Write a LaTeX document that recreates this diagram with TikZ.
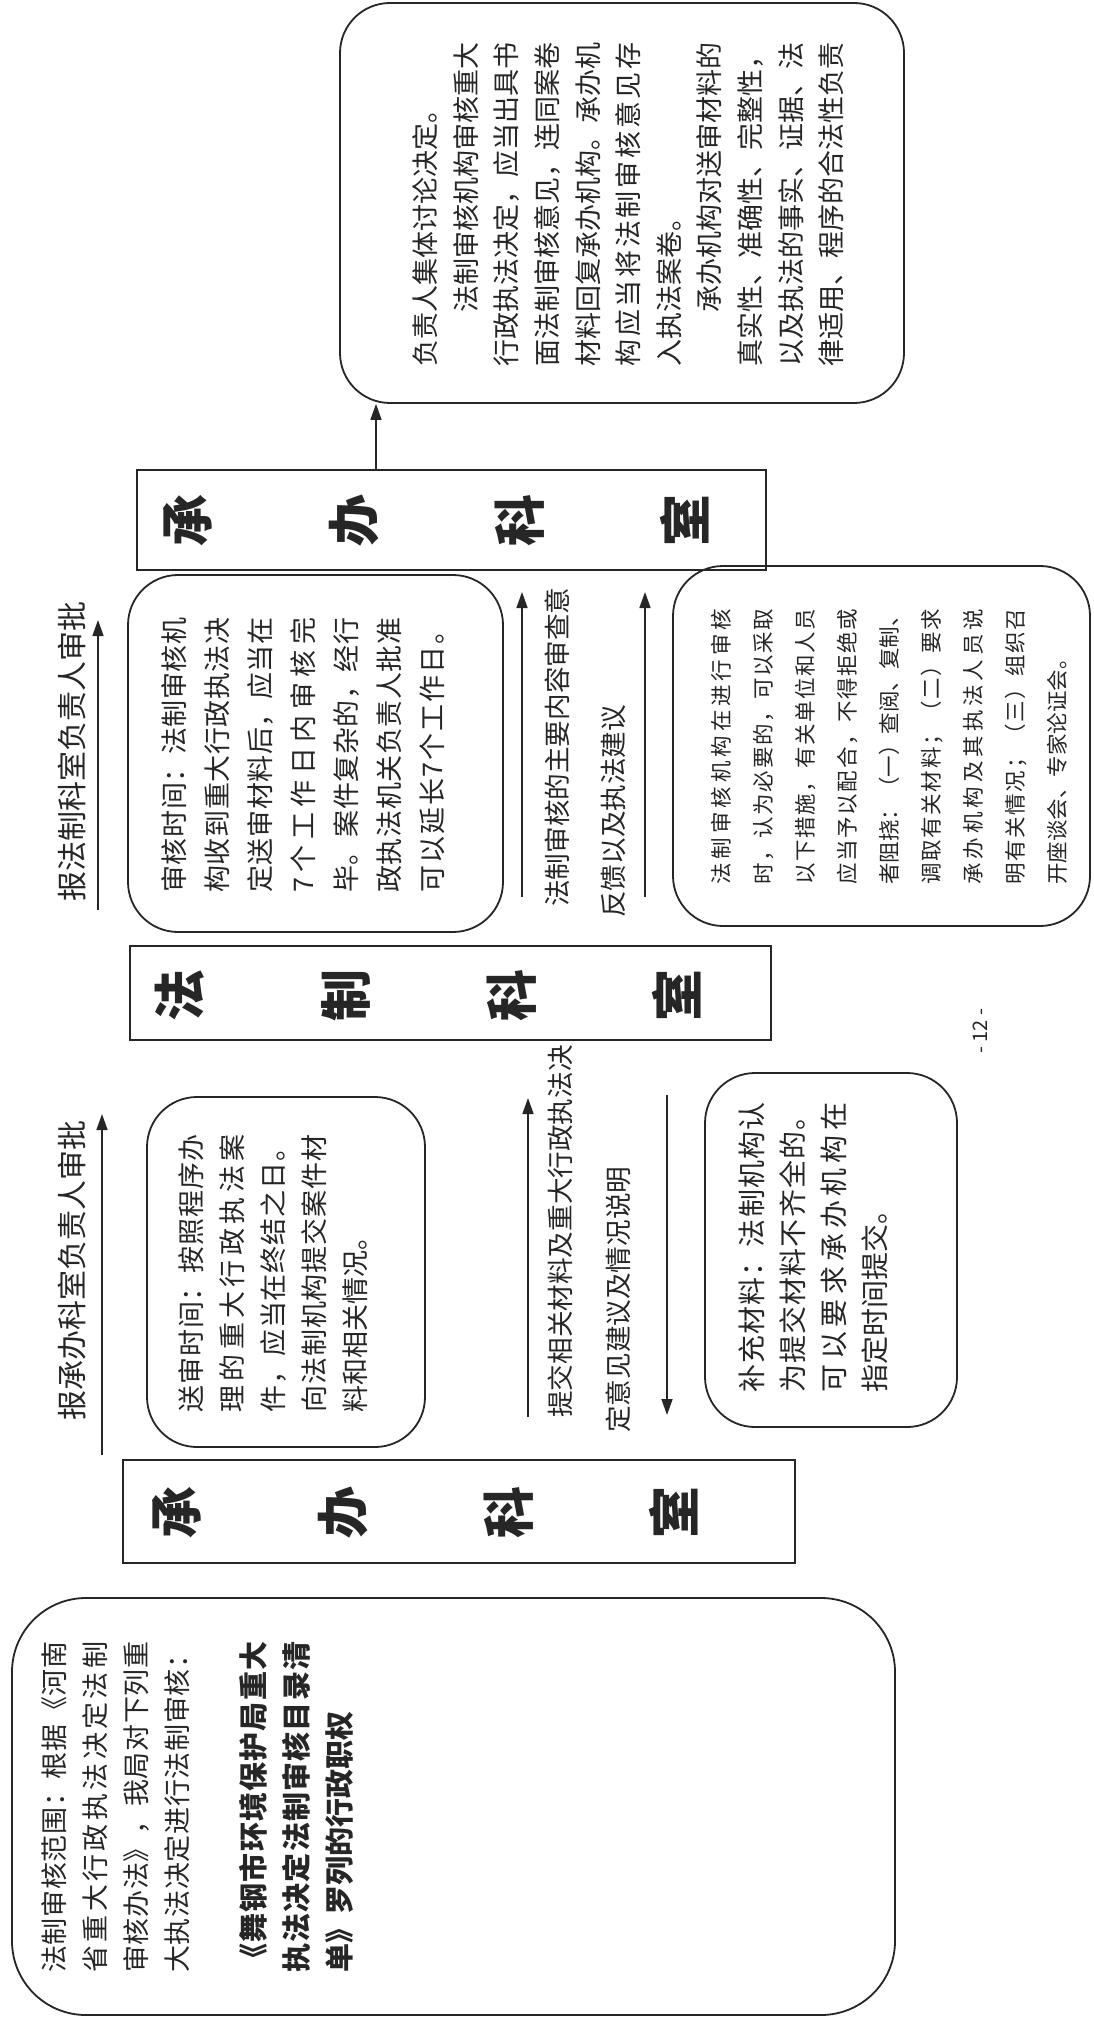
\documentclass[tikz,border=0pt]{standalone}
\usepackage{fontspec}
\setmainfont{Noto Sans CJK SC}
\usetikzlibrary{arrows.meta}
\def\jlaux#1#2\jlend{#1\ifx\relax#2\relax\else\hfil\jlaux#2\jlend\fi}
\newcommand\jl[1]{\noindent\makebox[\linewidth][s]{\jlaux#1\jlend}\par}
\newcommand\jli[1]{\noindent\hspace*{2em}\makebox[\dimexpr\linewidth-2em\relax][s]{\jlaux#1\jlend}\par}
\newcommand\rl[1]{\noindent#1\par}
\definecolor{ink}{gray}{0.15}
\tikzset{
 rbox/.style={draw=ink, line width=0.9pt, rounded corners=25pt, rotate=90, inner sep=0pt},
 sbox/.style={draw=ink, line width=0.9pt, rotate=90, inner sep=0pt},
 btxt/.style={rotate=90, anchor=north west, inner sep=0pt, text=ink},
 lbl/.style={rotate=90, anchor=west, inner sep=0pt, text=ink, font=\fontsize{15pt}{18pt}\selectfont},
 mlbl/.style={lbl, font=\fontsize{13.3pt}{16pt}\selectfont},
 klbl/.style={rotate=90, inner sep=0pt, text=ink, align=center, font=\bfseries\fontsize{26pt}{83pt}\selectfont},
 arr/.style={draw=ink, line width=0.8pt, -{Triangle[length=8pt,width=5.5pt]}},
}
\begin{document}
\begin{tikzpicture}[x=0.5pt,y=-0.5pt]
\fill[white] (0,0) rectangle (1093,2021);
\useasboundingbox (0,0) rectangle (1093,2021);

% boxes
\node[rbox, minimum width=200pt, minimum height=282pt] (topbox) at (622,203) {};
\node[rbox, minimum width=178.5pt, minimum height=187.5pt] (shenhe) at (315.5,753.5) {};
\node[rbox, minimum width=175pt, minimum height=139pt] (songshen) at (286,1272) {};
\node[rbox, minimum width=177pt, minimum height=126pt] (buchong) at (831,1250) {};
\node[rbox, minimum width=180pt, minimum height=208.5pt] (cuoshi) at (881.5,746) {};
\node[rbox, rounded corners=37pt, minimum width=208.5pt, minimum height=441.5pt] (fanwei) at (453.5,1806.5) {};
\node[sbox, minimum width=50pt, minimum height=314.5pt] (rect1) at (451.5,520) {};
\node[sbox, minimum width=47pt, minimum height=320.5pt] (rect2) at (450.5,993) {};
\node[sbox, minimum width=51.5pt, minimum height=336pt] (rect3) at (459,1511.5) {};

% department names
\node[klbl] (rect1t) at (436.5,520) {承\\办\\科\\室};
\node[klbl] (rect2t) at (428,995) {法\\制\\科\\室};
\node[klbl] (rect3t) at (425.5,1512) {承\\办\\科\\室};

% box texts
\node[btxt, text width=162pt, font=\fontsize{13.5pt}{20.3pt}\selectfont] (toptxt) at (412.5,367) {%
\rl{负责人集体讨论决定。}
\jli{法制审核机构审核重大}
\jl{行政执法决定，应当出具书}
\jl{面法制审核意见，连同案卷}
\jl{材料回复承办机构。承办机}
\jl{构应当将法制审核意见存}
\rl{入执法案卷。}
\jli{承办机构对送审材料的}
\jl{真实性、准确性、完整性，}
\jl{以及执法的事实、证据、法}
\jl{律适用、程序的合法性负责}};

\node[btxt, text width=137.5pt, font=\fontsize{13.5pt}{21.5pt}\selectfont] (shenhet) at (161.5,893) {%
\jl{审核时间：法制审核机}
\jl{构收到重大行政执法决}
\jl{定送审材料后，应当在}
\jl{7个工作日内审核完}
\jl{毕。案件复杂的，经行}
\jl{政执法机关负责人批准}
\jl{可以延长7个工作日。}};

\node[btxt, text width=139pt, font=\fontsize{13.5pt}{20.5pt}\selectfont] (songshent) at (178.5,1413) {%
\jl{送审时间：按照程序办}
\jl{理的重大行政执法案}
\jl{件，应当在终结之日。}
\jl{向法制机构提交案件材}
\rl{料和相关情况。}};

\node[btxt, text width=145pt, font=\fontsize{14pt}{20.5pt}\selectfont] (buchongt) at (738,1393) {%
\jl{补充材料：法制机构认}
\jl{为提交材料不齐全的。}
\jl{可以要求承办机构在}
\rl{指定时间提交。}};

\node[btxt, text width=138pt, font=\fontsize{10.75pt}{21pt}\selectfont] (cuoshit) at (711,885) {%
\jl{法制审核机构在进行审核}
\jl{时，认为必要的，可以采取}
\jl{以下措施，有关单位和人员}
\jl{应当予以配合，不得拒绝或}
\jl{者阻挠：（一）查阅、复制、}
\jl{调取有关材料；（二）要求}
\jl{承办机构及其执法人员说}
\jl{明有关情况；（三）组织召}
\rl{开座谈会、专家论证会。}};

\node[btxt, text width=165.5pt, font=\fontsize{13.5pt}{20.5pt}\selectfont] (fanweit) at (41.5,1973) {%
\jl{法制审核范围：根据《河南}
\jl{省重大行政执法决定法制}
\jl{审核办法》，我局对下列重}
\jl{大执法决定进行法制审核：}};

\node[btxt, text width=165.5pt, font=\bfseries\fontsize{14.5pt}{21.5pt}\selectfont] (fanweib) at (238.5,1973) {%
\jl{《舞钢市环境保护局重大}
\jl{执法决定法制审核目录清}
\rl{单》罗列的行政职权}};

% arrow labels
\node[lbl] (l1) at (72,902) {报法制科室负责人审批};
\node[lbl] (l2) at (72,1421) {报承办科室负责人审批};
\node[mlbl] (t3a) at (560,1418) {提交相关材料及重大行政执法决};
\node[mlbl] (t3b) at (618,1433) {定意见建议及情况说明};
\node[mlbl] (t5a) at (557,907) {法制审核的主要内容审查意};
\node[mlbl] (t5b) at (613,918) {反馈以及执法建议};

% arrows
\coordinate (a1s) at (98,910);  \coordinate (a1e) at (98,620);
\coordinate (a2s) at (102,1455); \coordinate (a2e) at (102,1114);
\coordinate (a3s) at (528,1417); \coordinate (a3e) at (528,1098);
\coordinate (a4s) at (667,1095); \coordinate (a4e) at (667,1415);
\coordinate (a5s) at (522,897);  \coordinate (a5e) at (522,592);
\coordinate (a6s) at (645,897);  \coordinate (a6e) at (645,592);
\coordinate (ax) at (376,0);
\draw[arr] (a1s) -- (a1e);
\draw[arr] (a2s) -- (a2e);
\draw[arr] (a3s) -- (a3e);
\draw[arr] (a4s) -- (a4e);
\draw[arr] (a5s) -- (a5e);
\draw[arr] (a6s) -- (a6e);
\draw[arr] (rect1.east -| ax) -- (topbox.west -| ax);

% page number
\node[rotate=90, inner sep=0pt, text=ink, font=\fontsize{10pt}{12pt}\selectfont] (pnum) at (980,1031) {- 12 -};
\end{tikzpicture}
\end{document}
